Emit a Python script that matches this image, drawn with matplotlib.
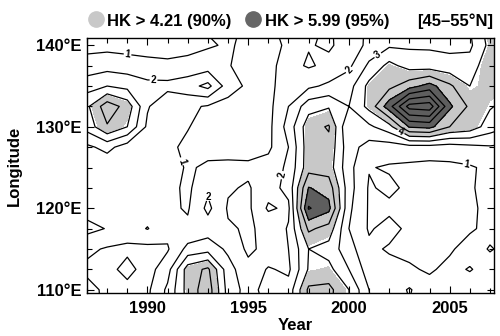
import matplotlib
matplotlib.use("Agg")
import matplotlib.pyplot as plt
from matplotlib.lines import Line2D
import numpy as np

plt.rcParams.update({
    "font.family": ["Liberation Sans", "DejaVu Sans"],
    "font.weight": "bold",
    "axes.linewidth": 1.0,
})

# HK statistic, yearly x 2.5 deg longitude (rows run from north to south)
years = list(range(1987, 2009))
lons = [142.5, 140, 137.5, 135, 132.5, 130, 127.5, 125, 122.5, 120, 117.5, 115, 112.5, 110, 107.5]
hk = [
    [0.5, 0.6, 0.5, 0.5, 0.5, 0.7, 1.1, 1.3, 0.8, 0.9, 1.2, 1.2, 0.9, 1.4, 2.2, 2.6, 2.7, 2.7, 2.6, 3.0, 4.6, 4.8],
    [0.7, 0.7, 0.6, 0.6, 0.6, 0.7, 0.9, 1.1, 0.8, 0.8, 1.1, 1.05, 0.9, 1.3, 2.3, 2.85, 2.85, 2.85, 2.8, 2.8, 4.3, 4.6],
    [1.4, 1.6, 1.5, 1.3, 1.2, 1.3, 1.5, 1.05, 0.7, 0.8, 1.3, 0.9, 1.2, 1.8, 3.2, 4.3, 3.6, 3.5, 3.3, 3.4, 4.8, 4.9],
    [2.6, 3.0, 2.7, 2.3, 2.3, 2.6, 3.3, 1.5, 0.8, 0.9, 1.2, 1.8, 2.2, 2.6, 4.3, 4.7, 5.6, 6.4, 5.2, 4.0, 4.5, 4.2],
    [3.8, 5.6, 4.6, 2.1, 1.2, 1.2, 0.9, 0.6, 0.5, 0.7, 2.0, 3.6, 3.9, 3.0, 4.3, 6.6, 9.4, 9.6, 6.2, 4.8, 4.1, 3.6],
    [3.4, 4.9, 4.0, 1.8, 1.3, 1.05, 0.6, 0.5, 0.5, 0.7, 2.4, 4.6, 5.1, 2.0, 2.8, 3.6, 6.1, 6.3, 5.0, 4.6, 3.5, 3.0],
    [1.8, 2.3, 1.5, 1.3, 1.2, 0.8, 0.6, 0.5, 0.6, 0.8, 2.0, 4.6, 4.7, 2.4, 1.6, 1.5, 1.6, 1.6, 1.5, 1.7, 1.9, 1.8],
    [1.4, 1.3, 1.3, 1.5, 1.6, 0.85, 1.2, 1.3, 1.2, 1.4, 2.2, 4.6, 4.5, 2.3, 1.05, 0.9, 0.8, 0.7, 0.8, 0.9, 1.2, 1.4],
    [1.3, 1.2, 1.4, 1.6, 1.3, 0.8, 1.8, 1.1, 0.9, 1.6, 2.3, 6.05, 5.6, 2.4, 0.9, 1.2, 0.8, 0.7, 0.8, 0.9, 1.3, 1.6],
    [1.6, 1.4, 1.2, 1.5, 1.2, 0.9, 2.25, 0.9, 0.8, 2.15, 1.8, 7.1, 6.3, 2.2, 0.9, 0.8, 0.7, 0.6, 0.7, 0.8, 1.3, 1.5],
    [2.3, 1.95, 1.5, 2.05, 1.3, 1.2, 1.5, 1.1, 0.9, 1.2, 2.1, 5.2, 4.6, 2.0, 0.9, 1.3, 0.8, 0.6, 0.7, 0.9, 1.2, 1.4],
    [1.2, 0.9, 0.8, 0.7, 0.9, 2.3, 2.6, 1.8, 0.8, 1.3, 2.0, 4.0, 3.6, 2.4, 1.2, 0.9, 0.8, 0.7, 0.9, 1.3, 0.95, 1.2],
    [0.8, 0.7, 1.3, 0.6, 1.6, 4.5, 5.2, 2.4, 1.3, 2.1, 1.8, 4.1, 4.3, 3.0, 1.5, 1.3, 1.1, 0.9, 1.2, 0.95, 1.3, 1.2],
    [1.3, 0.8, 0.7, 0.8, 2.2, 4.4, 5.6, 2.6, 1.6, 2.4, 2.4, 5.2, 5.3, 4.0, 2.0, 1.4, 2.1, 1.3, 1.1, 1.4, 1.2, 1.3],
    [1.2, 0.9, 0.8, 0.9, 2.3, 4.3, 5.6, 2.7, 1.4, 2.2, 2.5, 5.1, 5.2, 4.1, 2.1, 1.3, 1.9, 1.2, 1.1, 1.5, 1.2, 1.3],
]
line_levels = [1, 2, 3, 4, 5, 6, 7, 8, 9]
shade_levels = [4.21, 5.99, 99]
x_major = [1990, 1995, 2000, 2005]
y_major = [110, 120, 130, 140]
y_labels = ["110°E", "120°E", "130°E", "140°E"]

LIGHT, DARK = "#c8c8c8", "#5e5e5e"

fig = plt.figure(figsize=(5.0, 3.36), dpi=100)
ax = fig.add_axes([0.174, 0.128, 0.814, 0.759])

Z = np.array(hk)
ax.contourf(years, lons, Z, levels=shade_levels, colors=[LIGHT, DARK])

# where the few inline labels sit (one list per labelled level)
label_spots = {
    1: [(1989.0, 138.6), (2006.0, 128.3), (1991.4, 125.5)],
    2: [(1990.3, 135.6), (1993.0, 121.5), (1996.8, 124.0), (2000.4, 136.3)],
    3: [(2001.5, 138.5)],
    4: [(2002.6, 129.5)],
}
for lev in line_levels:
    cs = ax.contour(years, lons, Z, levels=[lev], colors="black", linewidths=0.9)
    if lev in label_spots:
        ax.clabel(cs, manual=label_spots[lev], fmt="%d", fontsize=7,
                  inline=True, inline_spacing=1)

ax.set_xlim(1987, 2007.2)
ax.set_ylim(109.6, 140.9)
ax.set_xticks(x_major)
ax.set_xticks(range(1987, 2008), minor=True)
ax.set_yticks(y_major)
ax.set_yticklabels(y_labels)
ax.set_yticks(np.arange(110, 141, 2.5), minor=True)
ax.tick_params(which="both", direction="in", top=True, right=True, width=0.8,
               labelsize=12, pad=4)
ax.tick_params(axis="x", which="major", pad=6)
ax.tick_params(which="major", length=5)
ax.tick_params(which="minor", length=3.5)

ax.set_xlabel("Year", fontsize=12, fontweight="bold")
ax.xaxis.set_label_coords(0.512, -0.10)
ax.set_ylabel("Longitude", fontsize=12, fontweight="bold")
ax.yaxis.set_label_coords(-0.16, 0.5)

# legend line above the plot
fig.add_artist(Line2D([0.191], [0.943], marker="o", markersize=11, color=LIGHT,
                      transform=fig.transFigure))
fig.text(0.214, 0.9226, "HK > 4.21 (90%)", fontsize=12, fontweight="bold", va="baseline")
fig.add_artist(Line2D([0.506], [0.943], marker="o", markersize=11, color="#666666",
                      transform=fig.transFigure))
fig.text(0.530, 0.9226, "HK > 5.99 (95%)", fontsize=12, fontweight="bold", va="baseline")
fig.text(0.986, 0.9226, "[45–55°N]", fontsize=12, fontweight="bold", va="baseline", ha="right")

fig.savefig("out.png", dpi=100, facecolor="white")
